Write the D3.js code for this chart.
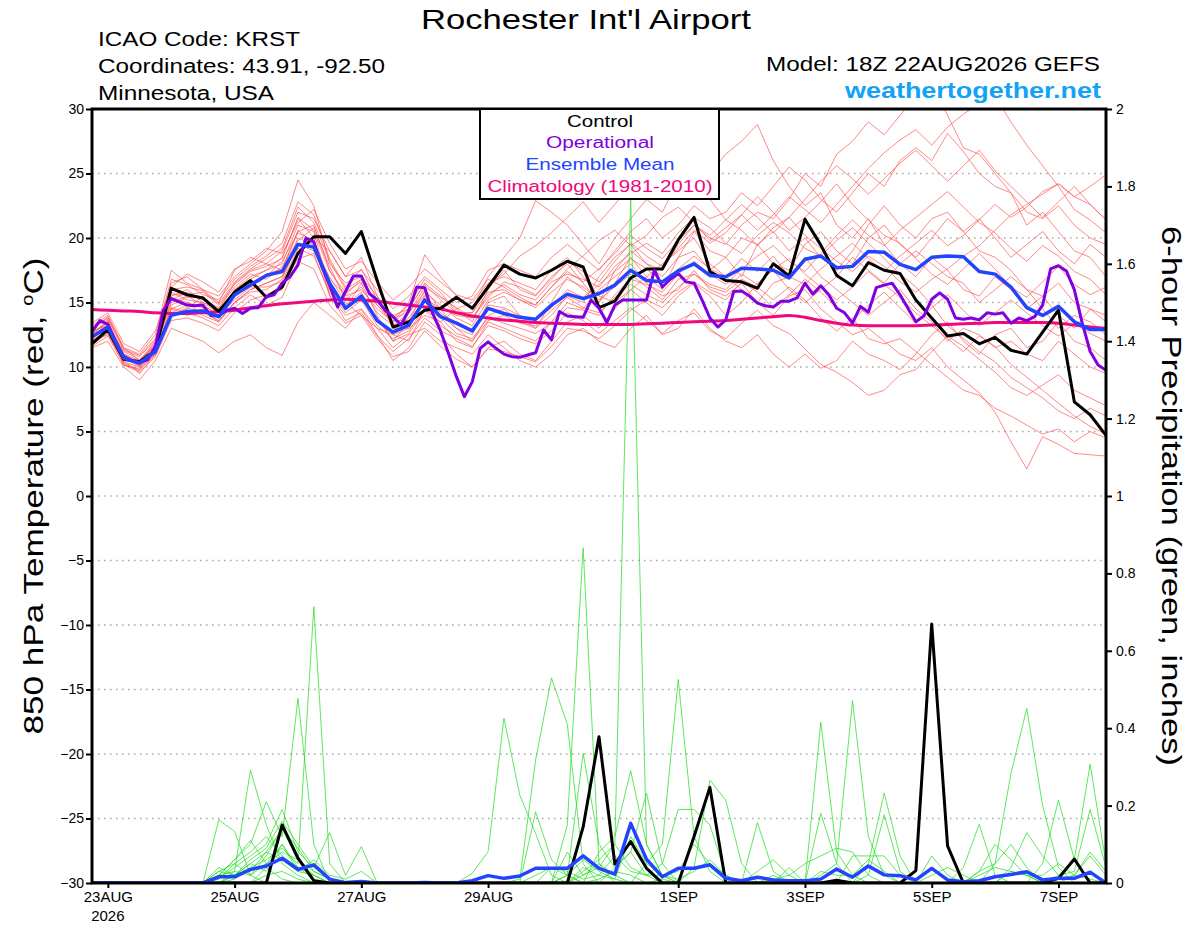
<!DOCTYPE html>
<html>
<head>
<meta charset="utf-8">
<script src="https://cdn.jsdelivr.net/npm/d3@7"></script>
<style>
  body { margin: 0; background: #fff; }
  text { font-family: "Liberation Sans", Arial, sans-serif; }
</style>
</head>
<body>
<div id="chart"></div>
<script>
// GEFS 6-hourly run, 18Z 22AUG2026 .. +384h
const runStart = Date.UTC(2026, 7, 22, 18);
const stepHours = 6;

// date ticks and their labels
const tickDates = [
  Date.UTC(2026, 7, 23), Date.UTC(2026, 7, 25), Date.UTC(2026, 7, 27), Date.UTC(2026, 7, 29),
  Date.UTC(2026, 8, 1), Date.UTC(2026, 8, 3), Date.UTC(2026, 8, 5), Date.UTC(2026, 8, 7)
];
const tickLabels = ["23AUG", "25AUG", "27AUG", "29AUG", "1SEP", "3SEP", "5SEP", "7SEP"];
const tempTicks = [-30, -25, -20, -15, -10, -5, 0, 5, 10, 15, 20, 25, 30];
const precipTicks = [0, 0.2, 0.4, 0.6, 0.8, 1, 1.2, 1.4, 1.6, 1.8, 2];

// 850 hPa temperature, control run (6-hourly)
const controlTemp = [11.8,12.9,10.6,10.4,11.3,16.1,15.6,15.35,14.3,15.8,16.7,15.4,16.2,
  18.8,20.1,20.1,18.8,20.5,16.7,13.1,13.5,14.4,14.55,15.4,14.55,16.2,
  17.9,17.2,16.9,17.5,18.2,17.75,14.6,15.1,16.9,17.6,17.6,19.85,21.6,
  17.4,16.7,16.6,16.1,18.0,17.05,21.45,19.45,17.1,16.3,18.1,17.5,17.25,
  15.2,13.8,12.4,12.6,11.8,12.3,11.3,11.0,12.7,14.4,7.3,6.3,4.7];

// ensemble mean (6-hourly)
const meanTemp = [12.35,13.1,10.7,10.3,11.2,14.0,14.3,14.35,13.9,15.6,16.35,17.1,17.4,
  19.5,19.3,16.5,14.55,15.5,13.6,12.7,13.25,15.2,13.9,13.4,12.8,14.55,
  14.15,13.85,13.7,14.8,15.65,15.3,15.7,16.35,17.5,16.7,16.6,17.45,18.0,
  17.1,17.0,17.65,17.6,17.5,16.9,18.35,18.6,17.7,17.8,18.95,18.9,17.95,
  17.55,18.5,18.6,18.55,17.4,17.2,16.2,14.6,14.0,14.7,13.5,12.9,12.9];

// operational GFS (3-hourly)
const operTemp = [12.75,13.6,13.3,11.95,10.8,10.5,10.35,10.55,11.6,14.4,15.3,15.05,14.8,
  14.75,14.8,14.0,13.95,14.4,14.55,14.15,14.55,14.6,15.45,15.6,16.5,17.0,
  17.9,19.98,19.7,17.8,16.35,14.65,15.85,17.05,17.05,15.7,15.2,14.4,13.9,
  13.25,14.4,16.2,16.15,14.15,12.8,11.05,9.25,7.7,8.85,11.45,11.95,11.45,
  11.0,10.8,10.75,10.93,11.1,12.87,12.1,14.3,13.95,13.9,13.85,15.2,14.55,
  13.45,14.8,15.2,15.2,15.2,15.2,17.5,16.2,16.8,17.25,16.6,16.5,15.2,
  13.8,13.1,13.65,15.85,15.9,15.5,14.95,14.75,14.65,15.1,15.1,15.35,16.5,
  15.65,16.3,15.6,14.55,14.2,13.4,14.7,14.25,16.15,16.35,16.5,15.6,14.55,
  13.5,13.95,15.25,15.75,15.25,13.8,13.7,13.8,13.65,14.2,14.1,14.2,13.4,
  13.8,13.6,13.9,14.8,17.6,17.85,17.45,16.0,13.4,11.2,10.15,9.75];

// climatology 1981-2010 (6-hourly)
const climTemp = [14.45,14.4,14.35,14.3,14.2,14.15,14.15,14.2,14.3,14.4,14.6,14.75,14.9,
  15.0,15.1,15.2,15.25,15.2,15.1,14.95,14.8,14.65,14.5,14.2,13.95,13.8,
  13.65,13.55,13.45,13.4,13.35,13.3,13.3,13.3,13.3,13.35,13.4,13.45,13.5,
  13.55,13.6,13.7,13.8,13.9,14.0,13.85,13.6,13.4,13.25,13.2,13.2,13.2,
  13.2,13.25,13.3,13.35,13.4,13.45,13.45,13.45,13.45,13.4,13.25,13.1,13.0];

// ensemble members, 850 hPa temperature
const memberTemp = [
  [12.5,13.5,11.0,10.0,11.5,15.0,15.5,14.8,14.0,16.0,17.0,17.5,18.0, 21.0,20.5,16.0,14.5,16.5,14.0,12.0,13.5,16.0,14.5,13.0,12.5,15.0,
   15.5,14.0,13.0,15.0,17.0,16.0,15.0,17.5,19.0,18.0,17.5,19.5,21.0, 20.0,19.5,21.0,22.0,21.5,23.0,25.0,24.0,26.5,27.5,29.0,28.0,29.5,
   31.0,32.0,29.5,27.0,26.5,25.0,23.5,21.0,22.0,20.5,19.0,18.5,17.0],
  [12.0,12.5,10.5,9.5,11.0,14.5,14.0,14.5,13.5,15.0,16.0,16.5,17.0, 19.5,19.0,17.0,15.0,14.0,13.0,12.5,12.0,14.5,13.5,12.0,11.5,13.5,
   13.0,12.5,12.0,13.5,15.0,14.5,16.0,17.0,18.0,16.5,15.5,16.0,17.5, 16.0,15.5,16.5,15.0,14.0,15.5,16.0,14.5,13.5,12.5,13.0,12.0,11.0,
   10.5,11.5,10.0,9.0,8.0,6.5,4.2,2.1,4.6,4.0,3.3,3.2,3.1],
  [13.0,13.8,11.5,10.5,12.0,16.5,17.0,16.0,15.5,17.0,18.0,19.0,20.5, 24.5,22.5,18.0,16.5,17.0,15.5,14.0,14.5,16.5,15.5,14.5,13.5,16.0,
   17.5,16.0,15.5,17.0,18.0,16.5,15.0,16.5,18.5,17.0,16.0,18.5,20.5, 19.0,18.5,20.0,19.5,18.0,17.5,19.5,20.5,19.0,18.0,20.0,21.0,19.5,
   18.5,20.0,21.5,20.5,19.0,18.5,17.5,16.0,15.5,16.5,15.0,14.5,14.0],
  [11.5,12.0,10.0,9.0,10.5,13.0,12.5,12.0,11.1,12.0,12.5,11.5,10.9, 13.5,15.0,14.0,13.0,14.5,12.5,10.5,11.5,13.5,12.5,11.0,10.0,11.5,
   12.0,11.0,10.5,12.0,13.5,14.0,13.0,14.5,16.0,15.0,14.0,15.5,16.5, 15.5,14.0,15.0,16.5,17.5,16.0,15.0,16.0,17.0,18.5,17.5,16.5,18.0,
   19.0,18.0,17.0,16.5,15.0,16.0,17.0,16.0,14.5,13.0,14.0,13.5,12.5],
  [12.8,13.2,11.0,10.5,11.8,15.5,16.0,15.0,14.5,16.5,17.5,18.0,17.5, 20.5,21.0,17.5,15.5,16.0,14.5,13.5,15.0,18.7,17.0,15.5,14.5,17.0,
   18.5,20.0,22.9,22.0,21.0,19.5,18.0,20.0,21.5,23.0,22.0,24.5,26.0, 25.0,26.5,27.5,28.8,26.0,24.0,22.5,23.5,21.0,20.0,21.5,19.5,18.0,
   17.0,18.5,17.5,16.0,15.5,17.0,16.0,14.5,15.5,14.0,13.0,14.5,13.5],
  [12.2,13.0,10.8,10.2,11.0,15.8,15.2,15.0,14.2,15.5,16.5,15.5,16.0, 19.0,20.0,19.0,17.0,18.5,15.5,13.0,13.0,14.0,13.5,14.5,15.0,16.5,
   17.0,16.5,16.0,17.5,18.5,17.0,15.5,15.0,16.0,17.0,18.0,19.0,20.0, 18.0,17.0,16.0,15.0,16.5,17.0,18.5,17.0,16.0,15.0,14.0,15.0,16.0,
   14.5,13.5,12.0,13.0,12.5,11.5,12.0,11.0,10.5,12.0,11.0,10.0,9.5],
  [12.6,13.6,10.2,9.8,11.5,14.0,14.5,15.5,14.0,16.0,16.8,17.5,18.5, 21.5,20.0,15.5,14.0,14.5,13.0,11.5,12.5,13.0,12.0,11.5,11.0,12.5,
   11.5,10.5,10.0,11.0,12.5,13.0,12.0,11.5,13.0,14.0,12.5,13.0,14.5, 13.0,12.0,11.5,12.5,11.0,10.0,11.0,9.9,10.5,12.0,11.0,10.5,9.8,
   11.0,12.5,13.5,12.0,11.0,12.5,13.0,11.5,12.0,13.5,12.0,11.5,10.5],
  [13.2,14.0,11.5,11.0,12.5,17.5,16.5,16.0,15.0,17.5,18.5,18.0,19.0, 22.0,21.5,19.0,17.0,17.5,16.0,14.5,15.5,17.0,16.0,15.0,15.5,17.5,
   18.0,17.5,17.0,18.5,19.5,18.5,17.5,19.0,20.5,21.5,20.0,21.0,22.5, 21.5,22.0,23.5,22.5,24.0,25.5,24.5,23.0,22.0,23.5,25.0,24.0,26.0,
   27.0,26.0,28.1,26.7,25.0,24.0,23.5,22.0,21.5,22.5,21.0,20.0,19.5],
  [11.8,12.6,10.4,10.0,11.2,14.5,15.0,14.0,13.5,15.0,16.0,16.5,17.0, 20.0,19.5,16.5,14.5,15.5,13.5,12.5,13.0,15.5,14.0,13.0,12.0,14.0,
   14.5,13.5,13.0,14.0,15.5,15.0,17.0,18.5,19.5,18.0,17.0,18.5,19.0, 17.5,18.5,17.0,19.5,20.5,19.0,20.0,18.5,17.5,19.0,21.0,22.5,21.0,
   20.0,21.5,22.0,20.5,21.5,20.0,18.5,19.5,20.5,19.0,18.0,19.5,18.5],
  [12.4,13.3,11.2,10.6,11.6,15.2,15.8,15.2,14.6,16.2,17.2,16.8,17.8, 19.8,20.8,17.8,15.2,16.2,14.2,13.2,14.2,15.8,14.8,13.8,13.2,15.2,
   15.8,15.2,14.6,15.8,16.8,16.2,15.2,16.2,17.2,16.2,15.2,16.8,17.2, 16.2,15.8,16.8,16.2,15.2,16.2,15.2,13.8,12.8,13.8,12.2,11.8,12.2,
   11.2,10.2,9.2,8.2,7.8,6.8,6.2,5.5,4.8,5.2,4.2,5.0,4.5],
  [12.9,13.9,11.4,10.9,12.2,16.8,16.4,15.6,15.2,16.8,17.8,18.6,19.6, 22.8,21.8,18.4,16.2,17.6,15.2,13.8,14.8,16.8,15.8,14.2,14.2,16.4,
   17.2,18.6,19.4,20.4,21.6,22.8,21.2,22.6,24.2,26.0,24.6,23.2,24.6, 23.0,21.4,20.6,19.4,20.8,21.6,20.2,19.2,18.2,17.4,18.6,17.8,16.6,
   15.8,16.8,17.6,18.6,19.4,20.6,21.8,22.6,23.4,24.2,23.2,22.6,21.4],
  [12.1,12.8,10.6,10.1,11.4,15.4,15.0,14.6,13.8,15.4,16.4,17.2,17.6, 20.6,19.6,16.2,14.8,15.8,13.6,12.8,13.8,15.6,14.2,13.4,12.8,14.8,
   14.6,14.0,13.6,14.6,16.0,15.4,16.4,17.4,18.4,17.6,16.6,17.6,18.6, 17.6,17.0,18.4,17.4,18.6,17.0,16.4,17.6,18.6,19.6,18.4,17.4,18.6,
   19.6,20.6,19.4,20.2,21.4,22.6,21.6,22.4,23.6,24.2,23.2,24.0,24.9],
  [11.6,12.4,10.2,9.6,10.8,13.6,13.8,13.4,12.8,14.2,15.2,15.6,16.2, 18.4,18.8,15.6,13.6,14.2,12.4,11.2,12.2,13.8,12.8,12.2,11.6,13.2,
   12.8,12.2,11.8,12.8,14.2,13.6,12.6,13.6,14.6,13.6,12.6,13.6,14.2, 12.8,12.2,13.4,14.4,13.2,12.6,11.4,10.2,9.6,8.8,7.8,8.2,9.4,
   9.8,11.2,12.4,11.6,10.6,9.6,8.4,7.8,8.6,9.4,8.2,7.6,7.0],
  [13.4,14.2,11.8,11.2,12.8,16.2,17.2,16.6,15.8,17.6,18.2,19.2,18.8, 21.2,22.2,19.6,17.6,18.2,16.6,15.2,16.2,17.6,16.6,15.6,15.2,16.8,
   16.2,15.4,14.8,16.2,17.6,18.6,19.8,20.6,19.4,20.2,21.6,22.4,21.2, 19.8,20.8,21.8,23.2,22.0,20.6,21.6,22.8,24.2,22.6,21.4,20.2,19.6,
   18.4,17.2,16.4,17.6,18.8,17.6,16.2,15.4,16.6,17.8,16.4,15.6,16.2],
  [12.3,13.1,10.9,10.4,11.7,14.8,15.4,15.4,14.4,15.8,16.6,17.0,18.2, 20.4,19.8,16.8,15.6,16.8,14.8,13.6,13.6,15.2,14.6,14.0,13.8,15.6,
   16.4,15.6,15.2,16.6,17.2,16.8,16.2,17.8,18.8,19.6,18.8,20.4,21.6, 20.8,19.6,18.8,20.2,21.2,20.4,19.2,18.6,19.8,20.8,19.6,18.4,17.2,
   16.2,14.8,13.2,12.2,11.2,10.4,9.2,8.4,7.6,6.6,6.0,6.8,6.2],
  [12.0,12.9,10.3,9.7,11.1,14.2,14.8,14.8,14.0,15.2,16.2,16.2,16.6, 19.2,18.6,15.8,14.2,15.2,13.2,12.2,12.8,14.6,13.8,12.6,12.2,13.8,
   13.4,13.0,12.6,13.4,14.6,14.4,14.0,15.6,16.8,16.4,15.8,17.2,18.2, 17.2,16.4,17.6,18.6,19.4,18.2,17.4,18.8,20.2,21.4,20.2,19.4,20.6,
   21.6,22.6,23.6,22.4,21.2,20.4,19.2,18.2,19.4,18.6,17.4,16.8,15.6],
  [12.7,13.4,10.7,10.1,11.3,14.6,14.2,13.8,13.2,14.6,15.6,14.8,15.4, 18.2,17.6,14.8,13.4,14.0,12.2,10.8,11.2,12.8,11.6,10.6,10.0,11.4,
   11.2,10.8,10.4,11.6,13.0,12.8,12.2,13.2,14.4,15.2,14.6,15.8,16.6, 15.8,15.2,16.6,15.8,14.6,15.6,16.8,15.8,14.6,13.6,14.8,15.8,14.6,
   13.4,14.6,15.6,14.4,13.2,14.2,15.2,14.2,13.2,12.4,13.4,12.6,12.0],
  [12.5,13.5,11.0,10.3,11.9,15.6,15.6,15.8,14.8,16.4,17.4,17.8,18.4, 21.6,20.6,17.4,15.8,16.6,14.8,13.4,14.6,16.4,15.2,14.2,14.2,15.8,
   16.0,15.2,14.8,16.2,17.4,16.6,17.6,18.8,20.2,19.2,18.4,19.8,21.0, 20.2,21.4,22.6,21.6,20.4,21.6,23.0,24.4,25.6,24.6,23.4,24.6,25.8,
   26.8,25.6,24.4,25.6,26.8,25.2,24.0,22.8,21.6,22.8,24.0,22.6,21.4],
  [11.9,12.7,10.1,9.9,10.9,14.0,14.6,14.2,13.6,15.0,15.8,16.0,16.8, 19.6,19.2,16.0,14.6,15.6,13.8,12.0,12.6,14.4,13.2,12.4,12.0,13.6,
   14.0,13.4,13.2,14.4,15.4,14.6,14.2,15.4,16.4,15.6,15.0,16.2,17.2, 16.4,16.0,17.2,16.4,17.6,18.4,17.2,16.2,15.2,16.2,17.4,16.4,15.4,
   14.2,13.2,12.2,11.2,12.4,11.6,10.2,9.2,8.2,7.2,6.2,5.4,4.8],
  [13.0,13.7,11.3,10.8,12.1,16.0,16.2,15.9,14.9,16.6,17.6,18.4,19.2, 22.4,21.2,18.2,16.0,16.8,15.0,13.8,14.2,16.2,15.4,14.6,13.8,15.4,
   16.6,16.2,15.6,16.8,18.2,17.4,16.6,18.2,19.6,18.6,17.8,19.2,20.6, 19.6,20.4,21.8,20.6,21.8,23.2,22.2,21.2,22.6,24.0,25.4,26.6,27.6,
   28.4,27.2,28.6,29.6,30.4,31.0,29.0,27.2,25.6,24.0,22.2,21.4,20.4]
];

// 6-hour precipitation, control and ensemble mean (inches)
const controlPrecip = [0,0,0,0,0,0,0,0,0,0,0,0,0.15,
  0.064,0.006,0,0,0,0,0,0,0,0,0,0,0,
  0,0,0,0,0,0.145,0.378,0.049,0.107,0.038,0,0,0.12,
  0.247,0,0,0,0,0,0,0,0.007,0,0,0,0,
  0.032,0.669,0.096,0,0,0,0,0,0,0.012,0.062,0,0];

const meanPrecip = [0,0,0,0,0,0,0,0,0.016,0.016,0.035,0.044,0.064,
  0.035,0.047,0.01,0.001,0.004,0,0,0,0.001,0,0,0.006,0.019,
  0.012,0.018,0.038,0.038,0.038,0.07,0.038,0.023,0.154,0.061,0.016,0.038,0.038,
  0.047,0.012,0.006,0.015,0.008,0.006,0.006,0.01,0.036,0.015,0.044,0.021,0.019,
  0.008,0.038,0.008,0.003,0.006,0.016,0.022,0.029,0.008,0.012,0.012,0.028,0];

// ensemble members, 6-hour precipitation
const memberPrecip = [
  [0,0,0,0,0,0,0,0,0.163,0.133,0.02,0,0, 0,0,0,0,0,0,0,0,0,0,0,0,0,
   0,0,0,0,0,0,0.01,0.03,0.02,0,0,0,0, 0,0,0,0,0,0,0,0.02,0.05,0.471,0.12,0.02,0, 0,0,0,0,0,0,0,0,0,0,0,0,0],
  [0,0,0,0,0,0,0,0,0,0.03,0.292,0.15,0.05, 0.02,0,0,0,0,0,0,0,0,0,0,0,0,
   0,0,0,0,0.02,0.06,0.03,0.01,0,0.05,0.1,0.526,0.12, 0.03,0,0,0,0,0,0,0,0,0,0,0,0, 0,0,0,0,0.03,0.1,0.06,0.02,0,0,0,0,0],
  [0,0,0,0,0,0,0,0,0.02,0.06,0.1,0.21,0.12, 0.477,0.1,0,0,0,0,0,0,0,0,0,0,0,
   0,0,0,0,0,0,0,0.04,0.08,0.02,0,0,0, 0,0,0,0,0,0,0,0,0,0,0,0,0, 0,0,0,0,0,0.05,0.283,0.451,0.2,0.04,0,0,0],
  [0,0,0,0,0,0,0,0,0,0.01,0.04,0.06,0.09, 0.05,0.714,0.05,0,0,0,0,0,0,0,0,0,0,
   0,0,0,0,0,0.02,0.04,0.1,1.77,0.1,0.02,0,0, 0,0,0,0,0,0,0,0,0,0,0,0,0, 0,0,0,0,0,0,0,0,0,0,0.02,0.08,0.03],
  [0,0,0,0,0,0,0,0,0.01,0.04,0.07,0.1,0.19, 0.08,0.04,0.13,0.02,0.094,0,0,0,0,0,0,0,0,
   0,0,0,0,0.15,0.866,0.05,0,0,0,0,0,0, 0,0,0,0.03,0.06,0.02,0,0,0,0,0,0,0, 0,0,0,0,0,0,0,0,0,0,0,0,0],
  [0,0,0,0,0,0,0,0,0,0,0,0.02,0.03, 0.01,0,0,0,0,0,0,0,0,0,0,0.025,0.081,
   0.426,0.227,0.128,0.02,0,0,0,0,0,0,0,0,0, 0,0,0,0,0,0,0,0.415,0.08,0.02,0,0,0, 0,0,0,0,0,0,0,0,0,0,0,0,0],
  [0,0,0,0,0,0,0,0,0,0,0,0.04,0.01, 0,0,0,0,0,0,0,0,0,0,0,0,0,
   0,0.01,0.318,0.53,0.41,0.05,0,0,0,0,0,0,0, 0,0,0,0,0,0,0,0,0,0,0,0,0, 0,0,0,0,0,0,0,0,0,0.02,0.06,0.307,0.05],
  [0,0,0,0,0,0,0,0,0,0.02,0.05,0.08,0.06, 0.03,0.02,0,0,0,0,0,0,0,0,0,0,0,
   0,0,0.184,0.06,0.02,0,0.08,0.12,0.29,0.1,0.02,0,0, 0,0,0,0,0,0,0,0,0,0,0.05,0.232,0.07, 0,0,0,0,0,0,0,0,0,0,0,0,0],
  [0,0,0,0,0,0,0,0,0.03,0.05,0.02,0.07,0.14, 0.06,0.02,0,0,0,0,0,0,0,0,0,0,0,
   0,0,0,0,0.02,0.335,0.1,0.04,0.08,0.232,0.05,0,0, 0,0,0,0,0,0,0,0,0,0,0,0,0, 0,0,0,0,0,0,0,0,0.05,0.214,0.06,0,0],
  [0,0,0,0,0,0,0,0,0,0.02,0.06,0.09,0.16, 0.1,0.04,0.01,0,0,0,0,0,0,0,0,0,0,
   0,0,0,0,0,0,0,0,0,0,0,0,0.04, 0.266,0.214,0.05,0,0,0,0,0,0,0,0,0,0, 0,0,0,0.04,0.152,0.02,0,0,0,0,0,0,0],
  [0,0,0,0,0,0,0,0,0.03,0.02,0.05,0.03,0.1, 0.04,0.01,0,0,0,0,0,0,0,0,0,0,0,
   0,0,0,0.04,0.02,0,0,0,0,0,0,0,0, 0,0,0,0.156,0.03,0,0,0.18,0.05,0,0.02,0.176,0.03, 0,0,0,0,0,0,0,0,0,0,0,0,0],
  [0,0,0,0,0,0,0,0,0.01,0.05,0.08,0.12,0.07, 0.04,0.02,0,0,0,0,0,0,0,0,0,0,0,
   0,0,0.02,0.04,0.03,0.01,0.02,0.07,0.03,0.02,0.05,0.19,0.19, 0.15,0.02,0,0,0,0,0,0,0,0,0,0,0, 0,0,0,0,0,0,0.04,0.13,0.07,0.02,0.03,0.19,0.04],
  [0,0,0,0,0,0,0,0,0.04,0.02,0.03,0.08,0.14, 0.09,0.03,0.01,0,0,0,0,0,0,0,0,0,0,
   0,0,0,0,0.08,0.02,0.05,0.02,0,0,0.01,0,0, 0,0,0,0,0,0.04,0,0,0,0.07,0.07,0.07,0.02, 0,0.07,0.02,0,0.03,0.05,0.1,0.04,0,0,0,0,0],
  [0,0,0,0,0,0,0,0,0.02,0.06,0.11,0.05,0.1, 0.03,0.06,0.02,0.01,0.03,0,0,0,0,0,0,0,0,
   0,0,0,0,0,0.04,0.02,0.01,0.12,0.05,0.02,0.01,0.03, 0.06,0.02,0,0,0.02,0,0,0.03,0.02,0.02,0.06,0.03,0, 0,0.02,0.04,0.02,0,0,0.03,0.02,0.02,0.05,0.02,0.07,0.02],
  [0,0,0,0,0,0,0,0,0.02,0.03,0.02,0.05,0.08, 0.06,0.03,0.01,0,0,0,0,0,0,0,0,0,0,
   0,0,0,0,0,0.03,0.06,0.1,0.04,0.02,0.02,0.03,0.1, 0.05,0.02,0,0,0.01,0.02,0.05,0.07,0.09,0.08,0.02,0,0, 0,0,0,0,0.02,0.04,0.03,0.02,0,0.01,0.02,0.01,0]
];

const W = 1200, H = 927;
const plot = { left: 92, right: 1106, top: 109, bottom: 883 };

const svg = d3.select("#chart").append("svg")
  .attr("width", W)
  .attr("height", H);

const x = d3.scaleUtc()
  .domain([runStart, runStart + 384 * 3600e3])
  .range([plot.left, plot.right]);
const yT = d3.scaleLinear().domain([-30, 30]).range([plot.bottom, plot.top]);
const yP = d3.scaleLinear().domain([0, 2]).range([plot.bottom, plot.top]);

// time of the i-th value of a series sampled every `hours`
const timeAt = (i, hours) => runStart + i * hours * 3600e3;

const lineT = (hours) => d3.line().x((d, i) => x(timeAt(i, hours))).y(d => yT(d));
const lineP = d3.line().x((d, i) => x(timeAt(i, stepHours))).y(d => yP(d));

svg.append("clipPath").attr("id", "plotClip")
  .append("rect")
  .attr("x", plot.left).attr("y", plot.top)
  .attr("width", plot.right - plot.left).attr("height", plot.bottom - plot.top);

// dotted grid on temperature ticks
svg.append("g")
  .selectAll("line")
  .data(tempTicks.slice(1, -1))
  .enter()
  .append("line")
  .attr("x1", plot.left).attr("x2", plot.right)
  .attr("y1", d => yT(d)).attr("y2", d => yT(d))
  .attr("stroke", "#a8a8a8")
  .attr("stroke-width", 1.3)
  .attr("stroke-dasharray", "1.5,4.5");

const lines = svg.append("g").attr("clip-path", "url(#plotClip)");

// ensemble members
lines.append("g")
  .selectAll("path")
  .data(memberTemp)
  .enter()
  .append("path")
  .attr("d", lineT(stepHours))
  .attr("fill", "none")
  .attr("stroke", "#ff5050")
  .attr("stroke-opacity", 0.85)
  .attr("stroke-width", 0.8);

lines.append("g")
  .selectAll("path")
  .data(memberPrecip)
  .enter()
  .append("path")
  .attr("d", lineP)
  .attr("fill", "none")
  .attr("stroke", "#22dd22")
  .attr("stroke-opacity", 0.9)
  .attr("stroke-width", 0.8);

// climatology, control, operational, mean
lines.append("path").datum(climTemp)
  .attr("d", lineT(stepHours).curve(d3.curveMonotoneX))
  .attr("fill", "none").attr("stroke", "#f0087e").attr("stroke-width", 3);

lines.append("path").datum(controlTemp)
  .attr("d", lineT(stepHours))
  .attr("fill", "none").attr("stroke", "#000").attr("stroke-width", 3)
  .attr("stroke-linejoin", "round");

lines.append("path").datum(operTemp)
  .attr("d", lineT(3))
  .attr("fill", "none").attr("stroke", "#8000e0").attr("stroke-width", 3)
  .attr("stroke-linejoin", "round");

lines.append("path").datum(meanTemp)
  .attr("d", lineT(stepHours))
  .attr("fill", "none").attr("stroke", "#2244ff").attr("stroke-width", 3.5)
  .attr("stroke-linejoin", "round");

lines.append("path").datum(controlPrecip)
  .attr("d", lineP)
  .attr("fill", "none").attr("stroke", "#000").attr("stroke-width", 3)
  .attr("stroke-linejoin", "round");

lines.append("path").datum(meanPrecip)
  .attr("d", lineP)
  .attr("fill", "none").attr("stroke", "#2244ff").attr("stroke-width", 3.5)
  .attr("stroke-linejoin", "round");

// axes
const leftAxis = svg.append("g")
  .attr("transform", `translate(${plot.left},0)`)
  .call(d3.axisLeft(yT).tickValues(tempTicks).tickFormat(d3.format("d")).tickSize(6).tickSizeOuter(0));
const rightAxis = svg.append("g")
  .attr("transform", `translate(${plot.right},0)`)
  .call(d3.axisRight(yP).tickValues(precipTicks).tickFormat(d => d3.format("")(d)).tickSize(6).tickSizeOuter(0));
const bottomAxis = svg.append("g")
  .attr("transform", `translate(0,${plot.bottom})`)
  .call(d3.axisBottom(x).tickValues(tickDates).tickFormat((d, i) => tickLabels[i]).tickSize(5).tickSizeOuter(0));

[leftAxis, rightAxis, bottomAxis].forEach(a => {
  a.select(".domain").remove();
  a.selectAll(".tick line").attr("stroke", "#000").attr("stroke-width", 2);
  a.selectAll(".tick text")
    .style("font-family", "'Liberation Sans', Arial, sans-serif")
    .attr("fill", "#000");
});
leftAxis.selectAll(".tick text").style("font-size", "14px").attr("x", -8);
rightAxis.selectAll(".tick text").style("font-size", "14px").attr("x", 10);
bottomAxis.selectAll(".tick text").style("font-size", "15px").attr("y", 8).attr("dy", "0.71em");

svg.append("text")
  .attr("x", x(tickDates[0])).attr("y", 921)
  .attr("text-anchor", "middle")
  .style("font-size", "15px")
  .text("2026");

// plot frame
svg.append("rect")
  .attr("x", plot.left).attr("y", plot.top)
  .attr("width", plot.right - plot.left).attr("height", plot.bottom - plot.top)
  .attr("fill", "none").attr("stroke", "#000").attr("stroke-width", 3);

// legend
const legend = svg.append("g");
legend.append("rect")
  .attr("x", 480).attr("y", plot.top)
  .attr("width", 239).attr("height", 90)
  .attr("fill", "#fff").attr("stroke", "#000").attr("stroke-width", 2);
const legendItems = [
  { label: "Control", color: "#000", y: 127, w: 66 },
  { label: "Operational", color: "#8000e0", y: 148, w: 108 },
  { label: "Ensemble Mean", color: "#2244ff", y: 169.5, w: 149 },
  { label: "Climatology (1981-2010)", color: "#f0087e", y: 191.5, w: 225 }
];
legend.selectAll("text")
  .data(legendItems)
  .enter()
  .append("text")
  .attr("x", 600).attr("y", d => d.y)
  .attr("text-anchor", "middle")
  .attr("textLength", d => d.w).attr("lengthAdjust", "spacingAndGlyphs")
  .attr("fill", d => d.color)
  .style("font-size", "16px")
  .text(d => d.label);

// header texts
function label(txt, xPos, yPos, size, width, anchor, color, weight) {
  return svg.append("text")
    .attr("x", xPos).attr("y", yPos)
    .attr("text-anchor", anchor)
    .attr("textLength", width).attr("lengthAdjust", "spacingAndGlyphs")
    .attr("fill", color || "#000")
    .style("font-size", size + "px")
    .style("font-weight", weight || "normal")
    .text(txt);
}
label("Rochester Int'l Airport", 586, 29, 28, 330, "middle");
label("ICAO Code: KRST", 98, 46, 20, 202, "start");
label("Coordinates: 43.91, -92.50", 98, 73, 20, 287, "start");
label("Minnesota, USA", 98, 100, 20, 176, "start");
label("Model: 18Z 22AUG2026 GEFS", 1100, 71, 20, 334, "end");
label("weathertogether.net", 1101, 98, 22, 256, "end", "#14a2f5", "bold");

// axis titles
const leftTitle = svg.append("text")
  .attr("transform", `translate(43,${(plot.top + plot.bottom) / 2}) rotate(-90)`)
  .attr("text-anchor", "middle")
  .attr("textLength", 477).attr("lengthAdjust", "spacingAndGlyphs")
  .style("font-size", "28px");
leftTitle.append("tspan").text("850 hPa Temperature (red, ");
leftTitle.append("tspan").attr("dy", -10).style("font-size", "16px").text("o");
leftTitle.append("tspan").attr("dy", 10).text("C)");

svg.append("text")
  .attr("transform", `translate(1162,${(plot.top + plot.bottom) / 2}) rotate(90)`)
  .attr("text-anchor", "middle")
  .attr("textLength", 540).attr("lengthAdjust", "spacingAndGlyphs")
  .style("font-size", "28px")
  .text("6-hour Precipitation (green, inches)");
</script>
</body>
</html>
